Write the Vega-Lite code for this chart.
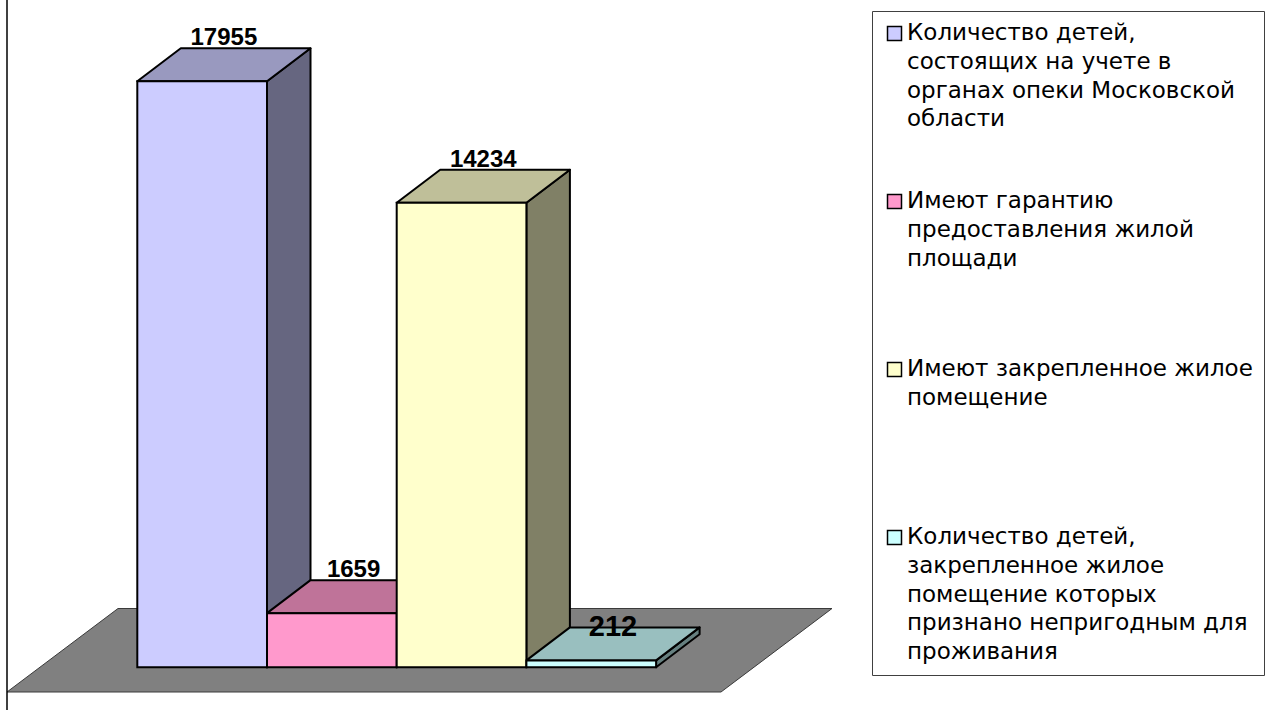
{
  "$schema": "https://vega.github.io/schema/vega-lite/v6.json",
  "width": 1269,
  "height": 710,
  "autosize": "none",
  "padding": 0,
  "background": "white",
  "config": {
    "view": {"stroke": null},
    "font": "Liberation Sans",
    "style": {"guide-label": {"lineHeight": 28.75, "dy": -11.5}}
  },
  "data": {
    "values": [
      {"category": "Количество детей, состоящих на учете в органах опеки Московской области", "value": 17955},
      {"category": "Имеют гарантию предоставления жилой площади", "value": 1659},
      {"category": "Имеют закрепленное жилое помещение", "value": 14234},
      {"category": "Количество детей, закрепленное жилое помещение которых признано непригодным для проживания", "value": 212}
    ]
  },
  "transform": [
    {"window": [{"op": "row_number", "as": "n"}]},
    {"calculate": "datum.n - 1", "as": "x0"},
    {"calculate": "datum.n", "as": "x1"}
  ],
  "layer": [
    {
      "transform": [{"filter": "datum.n == 1"}],
      "mark": {"type": "point", "shape": "M -412.5 41.75 L -301.5 -41.75 L 412.5 -41.75 L 301.5 41.75 Z", "size": 4, "filled": true, "fill": "#808080", "stroke": "#3a3a3a", "strokeWidth": 1, "opacity": 1, "fillOpacity": 1},
      "encoding": {
        "x": {"datum": 2.1758, "type": "quantitative", "scale": {"domain": [-1.0586, 8.7255], "nice": false, "zero": false}, "axis": null},
        "y": {"datum": 522.4, "type": "quantitative", "scale": {"domain": [-1308, 20444], "nice": false, "zero": false}, "axis": null}
      }
    },
    {
      "transform": [{"filter": "datum.n == 1"}],
      "mark": {"type": "rule", "color": "black", "strokeWidth": 1.5},
      "encoding": {
        "x": {"datum": -1.0046, "type": "quantitative", "scale": {"domain": [-1.0586, 8.7255], "nice": false, "zero": false}, "axis": null}
      }
    },
    {
      "transform": [
        {"calculate": "[0, 1]", "as": "k"},
        {"flatten": ["k"]},
        {"calculate": "datum.x1 + datum.k * 0.3354", "as": "sx"},
        {"calculate": "datum.k * 1011", "as": "sy0"},
        {"calculate": "datum.value + datum.k * 1011", "as": "sy1"}
      ],
      "mark": {"type": "area", "orient": "vertical", "stroke": "black", "strokeWidth": 2, "strokeJoin": "round", "opacity": 1, "fillOpacity": 1},
      "encoding": {
        "x": {"field": "sx", "type": "quantitative", "scale": {"domain": [-1.0586, 8.7255], "nice": false, "zero": false}, "axis": null},
        "y": {"field": "sy1", "type": "quantitative", "scale": {"domain": [-1308, 20444], "nice": false, "zero": false}, "axis": null},
        "y2": {"field": "sy0"},
        "color": {"field": "category", "type": "nominal", "scale": {"domain": ["Количество детей, состоящих на учете в органах опеки Московской области", "Имеют гарантию предоставления жилой площади", "Имеют закрепленное жилое помещение", "Количество детей, закрепленное жилое помещение которых признано непригодным для проживания"], "range": ["#666680", "#804C66", "#808066", "#668080"]}, "legend": null}
      }
    },
    {
      "transform": [
        {"calculate": "[0, 1]", "as": "k"},
        {"flatten": ["k"]},
        {"calculate": "datum.x0 + datum.k * 0.3354", "as": "tx0"},
        {"calculate": "datum.x1 + datum.k * 0.3354", "as": "tx1"},
        {"calculate": "datum.value + datum.k * 1011", "as": "ty"}
      ],
      "mark": {"type": "area", "orient": "horizontal", "stroke": "black", "strokeWidth": 2, "strokeJoin": "round", "opacity": 1, "fillOpacity": 1},
      "encoding": {
        "y": {"field": "ty", "type": "quantitative", "scale": {"domain": [-1308, 20444], "nice": false, "zero": false}, "axis": null},
        "x": {"field": "tx0", "type": "quantitative", "scale": {"domain": [-1.0586, 8.7255], "nice": false, "zero": false}, "axis": null},
        "x2": {"field": "tx1"},
        "color": {"field": "category", "type": "nominal", "scale": {"domain": ["Количество детей, состоящих на учете в органах опеки Московской области", "Имеют гарантию предоставления жилой площади", "Имеют закрепленное жилое помещение", "Количество детей, закрепленное жилое помещение которых признано непригодным для проживания"], "range": ["#9999BF", "#BF7399", "#BFBF99", "#99BFBF"]}, "legend": null}
      }
    },
    {
      "mark": {"type": "bar", "stroke": "black", "strokeWidth": 2, "opacity": 1},
      "encoding": {
        "x": {"field": "x0", "type": "quantitative", "scale": {"domain": [-1.0586, 8.7255], "nice": false, "zero": false}, "axis": null},
        "x2": {"field": "x1"},
        "y": {"field": "value", "type": "quantitative", "scale": {"domain": [-1308, 20444], "nice": false, "zero": false}, "axis": null},
        "y2": {"datum": 0},
        "color": {
          "field": "category", "type": "nominal",
          "scale": {"domain": ["Количество детей, состоящих на учете в органах опеки Московской области", "Имеют гарантию предоставления жилой площади", "Имеют закрепленное жилое помещение", "Количество детей, закрепленное жилое помещение которых признано непригодным для проживания"], "range": ["#CCCCFF", "#FF99CC", "#FFFFCC", "#CCFFFF"]},
          "legend": {
            "orient": "none", "legendX": 872, "legendY": 11, "title": null,
            "symbolType": "square", "symbolSize": 196, "symbolStrokeColor": "black", "symbolStrokeWidth": 1.5,
            "labelFont": "DejaVu Sans", "labelFontSize": 23, "labelColor": "black", "labelLimit": 0, "labelOffset": 1, "labelBaseline": "top",
            "strokeColor": "#404040", "fillColor": "white", "padding": 11, "rowPadding": 30, "gridAlign": "all",
            "labelExpr": "indexof(datum.label, 'состоящих') >= 0 ? ['Количество детей,', 'состоящих на учете в', 'органах опеки Московской', 'области'] : indexof(datum.label, 'гарантию') >= 0 ? ['Имеют гарантию', 'предоставления жилой', 'площади'] : indexof(datum.label, 'непригодным') >= 0 ? ['Количество детей,', 'закрепленное жилое', 'помещение которых', 'признано непригодным для', 'проживания'] : ['Имеют закрепленное жилое', 'помещение']",
            "encode": {"labels": {"enter": {"lineHeight": {"value": 28.75}}}}
          }
        }
      }
    },
    {
      "transform": [
        {"filter": "datum.n < 4"},
        {"calculate": "datum.x0 + 0.6677", "as": "lx"},
        {"calculate": "datum.value + 1011", "as": "ly"}
      ],
      "mark": {"type": "text", "font": "Liberation Sans", "fontWeight": "bold", "fontSize": 24, "align": "center", "baseline": "alphabetic", "dy": -3, "color": "black"},
      "encoding": {
        "x": {"field": "lx", "type": "quantitative", "scale": {"domain": [-1.0586, 8.7255], "nice": false, "zero": false}, "axis": null},
        "y": {"field": "ly", "type": "quantitative", "scale": {"domain": [-1308, 20444], "nice": false, "zero": false}, "axis": null},
        "text": {"field": "value", "type": "quantitative", "format": "d"}
      }
    },
    {
      "transform": [
        {"filter": "datum.n == 4"},
        {"calculate": "datum.x0 + 0.6677", "as": "lx"},
        {"calculate": "datum.value + 1011", "as": "ly"}
      ],
      "mark": {"type": "text", "font": "Liberation Sans", "fontWeight": "bold", "fontSize": 29, "align": "center", "baseline": "alphabetic", "dy": 9, "color": "black"},
      "encoding": {
        "x": {"field": "lx", "type": "quantitative", "scale": {"domain": [-1.0586, 8.7255], "nice": false, "zero": false}, "axis": null},
        "y": {"field": "ly", "type": "quantitative", "scale": {"domain": [-1308, 20444], "nice": false, "zero": false}, "axis": null},
        "text": {"field": "value", "type": "quantitative", "format": "d"}
      }
    }
  ],
  "resolve": {"scale": {"color": "independent"}}
}
